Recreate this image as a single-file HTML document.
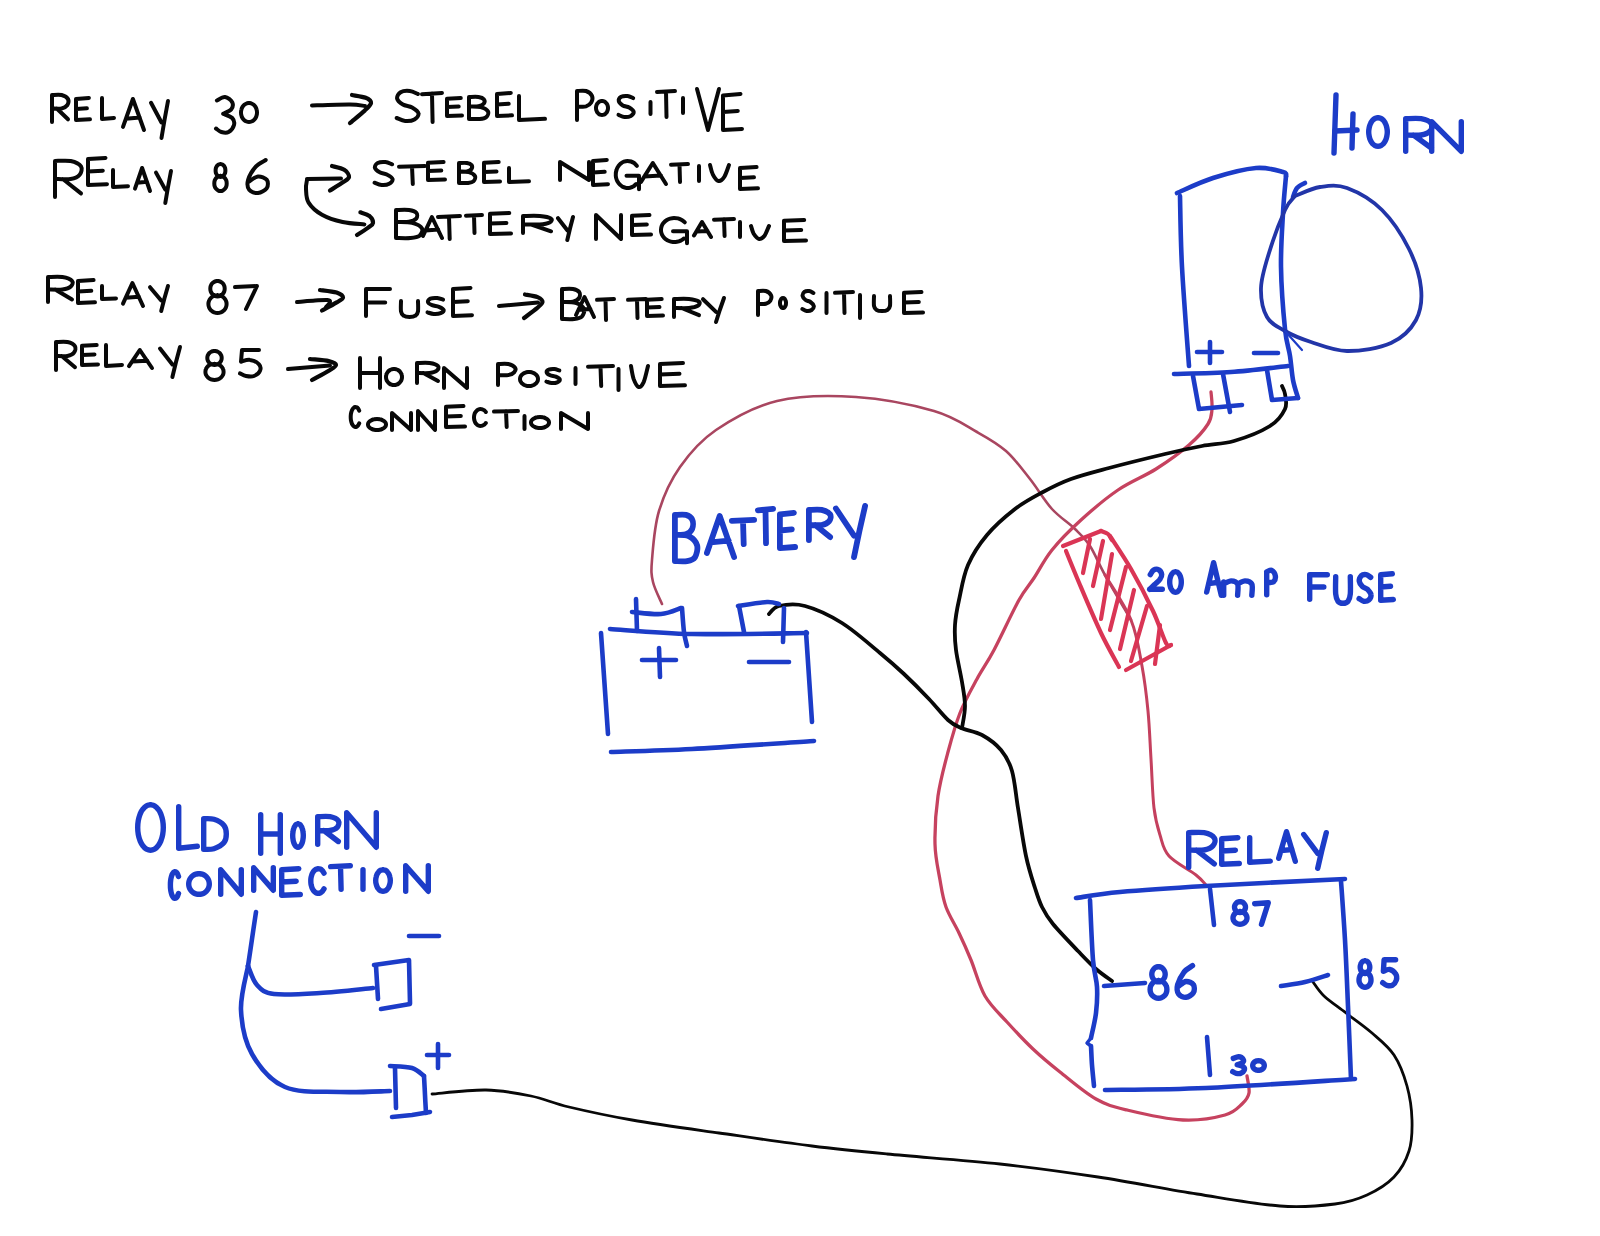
<!DOCTYPE html>
<html><head><meta charset="utf-8"><title>Horn relay wiring</title>
<style>
html,body{margin:0;padding:0;background:#fff;}
body{width:1600px;height:1236px;overflow:hidden;font-family:"Liberation Sans",sans-serif;}
svg{display:block;}
path{fill:none;stroke-linecap:round;stroke-linejoin:round;}
</style></head>
<body>
<svg width="1600" height="1236" viewBox="0 0 1600 1236">
<rect width="1600" height="1236" fill="#fff"/>
<path d="M52.0,122.0 L52.0,95.0 M52.0,95.0 C53.6,95.0 58.9,94.3 61.6,95.0 C64.3,95.7 67.1,97.3 68.0,99.0 C68.9,100.8 68.3,103.7 67.2,105.3 C66.1,106.8 64.1,108.0 61.6,108.5 C59.1,109.0 53.6,108.5 52.0,108.5 M56.8,108.5 L68.0,119.3 M88.9,98.0 L76.0,98.9 L76.0,120.0 L90.0,119.3 M76.0,109.0 L86.9,108.3 M102.0,98.0 L102.0,119.0 L114.0,118.0 M123.0,126.9 L132.9,99.0 L144.0,130.0 M125.9,118.8 L139.8,117.6 M151.0,102.8 L161.5,122.5 M168.0,101.0 L164.6,119.5 L161.5,138.0" stroke="#080808" stroke-width="4.0"/>
<path d="M216.9,100.5 C218.2,99.9 222.4,96.7 225.0,97.0 C227.6,97.3 231.1,100.2 232.2,102.2 C233.2,104.3 232.8,107.3 231.3,109.2 C229.8,111.2 224.5,113.0 223.2,113.8 M223.2,113.8 C224.7,114.5 230.4,116.1 232.2,118.0 C234.0,119.9 234.6,122.7 234.0,125.0 C233.4,127.3 230.7,130.8 228.6,132.0 C226.5,133.2 223.5,132.6 221.4,132.0 C219.3,131.4 216.9,129.1 216.0,128.5 M249.0,103.0 C249.4,103.1 250.7,103.2 251.5,103.5 C252.3,103.8 253.0,104.2 253.7,104.8 C254.4,105.4 255.0,106.1 255.5,106.9 C256.0,107.7 256.4,108.6 256.6,109.6 C256.9,110.5 257.0,111.5 257.0,112.5 C257.0,113.5 256.9,114.5 256.6,115.4 C256.4,116.4 256.0,117.3 255.5,118.1 C255.0,118.9 254.4,119.6 253.7,120.2 C253.0,120.8 252.3,121.2 251.5,121.5 C250.7,121.8 249.8,122.0 249.0,122.0 C248.2,122.0 247.3,121.8 246.5,121.5 C245.7,121.2 245.0,120.8 244.3,120.2 C243.6,119.6 243.0,118.9 242.5,118.1 C242.0,117.3 241.6,116.4 241.4,115.4 C241.1,114.5 241.0,113.5 241.0,112.5 C241.0,111.5 241.1,110.5 241.4,109.6 C241.6,108.6 242.0,107.7 242.5,106.9 C243.0,106.1 243.6,105.4 244.3,104.8 C245.0,104.2 245.7,103.8 246.5,103.5 C247.3,103.2 248.6,103.1 249.0,103.0" stroke="#080808" stroke-width="4.0"/>
<path d="M312.0,105.5 C318.3,105.3 341.2,104.4 350.0,104.5 C358.8,104.6 362.5,105.8 365.0,106.0" stroke="#080808" stroke-width="4.0"/>
<path d="M352.0,95.0 C354.3,95.5 362.5,96.5 365.7,97.8 C368.8,99.1 371.2,100.9 371.0,103.0 C370.8,105.1 368.2,107.3 364.7,110.6 C361.2,113.9 352.4,120.9 350.0,123.0" stroke="#080808" stroke-width="4.2"/>
<path d="M417.9,94.0 C416.5,93.5 412.7,91.3 409.8,91.0 C406.9,90.7 402.7,91.0 400.6,92.2 C398.5,93.5 396.8,96.5 397.1,98.5 C397.5,100.5 400.4,103.0 402.9,104.5 C405.4,106.0 409.5,106.0 412.1,107.5 C414.7,109.0 418.2,111.5 418.5,113.5 C418.9,115.5 416.6,118.2 414.4,119.5 C412.2,120.8 408.2,121.2 405.2,121.0 C402.2,120.8 398.1,118.5 396.7,118.0 M422.0,94.2 L442.0,93.0 M432.0,93.6 L432.6,122.0 M460.8,98.0 L447.0,98.7 L447.0,116.0 L462.0,115.5 M447.0,107.0 L458.7,106.5 M469.0,97.0 L469.0,119.0 M469.0,97.0 C470.6,97.0 476.0,96.6 478.5,97.0 C481.0,97.4 482.9,98.1 483.8,99.2 C484.7,100.3 484.7,102.4 483.8,103.6 C482.9,104.8 480.8,105.8 478.5,106.2 C476.2,106.7 471.4,106.4 469.9,106.5 M469.9,106.5 C471.8,106.6 477.8,106.3 480.8,107.1 C483.8,108.0 487.1,109.8 488.0,111.5 C488.9,113.2 487.5,116.0 486.1,117.2 C484.7,118.5 482.3,118.7 479.4,119.0 C476.6,119.3 470.7,119.0 469.0,119.0 M510.8,93.0 L497.0,93.9 L497.0,116.0 L512.0,115.3 M497.0,104.5 L508.7,103.8 M519.0,96.0 L519.0,120.0 L545.0,118.8" stroke="#080808" stroke-width="4.0"/>
<path d="M577.0,120.0 L577.0,91.0 M577.0,91.0 C578.5,91.0 583.5,90.2 586.0,91.0 C588.5,91.8 591.1,94.0 592.0,95.9 C592.9,97.9 592.2,100.9 591.2,102.6 C590.2,104.3 588.4,105.7 586.0,106.4 C583.6,107.0 578.5,106.4 577.0,106.4 M602.0,101.0 C602.3,101.1 603.3,101.1 603.9,101.3 C604.4,101.6 605.0,101.9 605.5,102.3 C606.0,102.8 606.5,103.3 606.9,103.9 C607.2,104.5 607.5,105.2 607.7,105.8 C607.9,106.5 608.0,107.3 608.0,108.0 C608.0,108.7 607.9,109.5 607.7,110.2 C607.5,110.8 607.2,111.5 606.9,112.1 C606.5,112.7 606.0,113.2 605.5,113.7 C605.0,114.1 604.4,114.4 603.9,114.7 C603.3,114.9 602.6,115.0 602.0,115.0 C601.4,115.0 600.7,114.9 600.1,114.7 C599.6,114.4 599.0,114.1 598.5,113.7 C598.0,113.2 597.5,112.7 597.1,112.1 C596.8,111.5 596.5,110.8 596.3,110.2 C596.1,109.5 596.0,108.7 596.0,108.0 C596.0,107.3 596.1,106.5 596.3,105.8 C596.5,105.2 596.8,104.5 597.1,103.9 C597.5,103.3 598.0,102.8 598.5,102.3 C599.0,101.9 599.6,101.6 600.1,101.3 C600.7,101.1 601.7,101.1 602.0,101.0 M633.2,98.1 C632.3,97.8 629.6,96.2 627.6,96.0 C625.6,95.8 622.7,96.0 621.2,96.8 C619.7,97.7 618.5,99.8 618.8,101.2 C619.1,102.7 621.1,104.4 622.8,105.5 C624.5,106.5 627.4,106.5 629.2,107.5 C631.0,108.6 633.4,110.3 633.7,111.8 C633.9,113.2 632.3,115.1 630.8,116.0 C629.3,116.8 626.5,117.2 624.4,117.0 C622.3,116.8 619.5,115.2 618.5,114.9 M650.5,102.0 L650.5,114.0 M657.0,92.0 L675.0,91.0 M666.0,91.5 L666.5,117.0 M683.0,98.0 L683.0,113.0 M697.0,89.0 L708.0,130.0 L719.0,89.0 M740.5,94.0 L723.0,95.4 L723.0,130.0 L742.0,128.9 M723.0,112.0 L737.8,110.9" stroke="#080808" stroke-width="4.0"/>
<path d="M55.0,197.0 L55.0,161.0 M55.0,161.0 C57.6,161.0 66.3,160.1 70.6,161.0 C74.9,161.9 79.5,164.1 81.0,166.4 C82.5,168.7 81.4,172.6 79.7,174.7 C78.0,176.8 74.7,178.3 70.6,179.0 C66.5,179.7 57.6,179.0 55.0,179.0 M62.8,179.0 L81.0,193.4 M105.5,158.0 L88.0,159.1 L88.0,185.0 L107.0,184.2 M88.0,171.5 L102.8,170.7 M113.0,170.0 L113.0,187.0 L128.0,186.2 M135.0,188.7 L142.1,168.0 L150.0,191.0 M137.1,182.7 L147.0,181.8 M156.0,172.6 L165.3,189.6 M171.0,171.0 L168.0,187.0 L165.3,203.0" stroke="#080808" stroke-width="4.0"/>
<path d="M220.5,164.0 C220.8,164.1 221.8,164.2 222.4,164.5 C223.0,164.8 223.5,165.3 224.0,165.9 C224.4,166.5 224.8,167.2 225.1,168.0 C225.3,168.8 225.4,169.7 225.4,170.5 C225.4,171.3 225.3,172.2 225.1,173.0 C224.8,173.7 224.4,174.5 224.0,175.1 C223.5,175.6 223.0,176.2 222.4,176.5 C221.8,176.8 221.1,177.0 220.5,177.0 C219.9,177.0 219.2,176.8 218.6,176.5 C218.0,176.2 217.5,175.6 217.0,175.1 C216.6,174.5 216.2,173.7 215.9,173.0 C215.7,172.2 215.6,171.3 215.6,170.5 C215.6,169.7 215.7,168.8 215.9,168.0 C216.2,167.2 216.6,166.5 217.0,165.9 C217.5,165.3 218.0,164.8 218.6,164.5 C219.2,164.2 220.2,164.1 220.5,164.0 M220.5,175.9 C220.9,176.0 222.2,176.1 222.9,176.5 C223.6,176.8 224.3,177.4 224.9,178.1 C225.5,178.8 226.0,179.7 226.3,180.5 C226.6,181.4 226.7,182.5 226.7,183.4 C226.7,184.4 226.6,185.4 226.3,186.3 C226.0,187.2 225.5,188.1 224.9,188.8 C224.3,189.5 223.6,190.1 222.9,190.4 C222.2,190.8 221.3,191.0 220.5,191.0 C219.7,191.0 218.8,190.8 218.1,190.4 C217.4,190.1 216.7,189.5 216.1,188.8 C215.5,188.1 215.0,187.2 214.7,186.3 C214.4,185.4 214.3,184.4 214.3,183.4 C214.3,182.5 214.4,181.4 214.7,180.5 C215.0,179.7 215.5,178.8 216.1,178.1 C216.7,177.4 217.4,176.8 218.1,176.5 C218.8,176.1 220.1,176.0 220.5,175.9 M265.7,160.0 C264.1,161.1 258.7,163.3 255.8,166.6 C252.9,169.9 249.2,176.0 248.1,179.8 C247.0,183.7 247.5,187.5 249.2,189.7 C250.8,191.9 255.1,193.3 258.0,193.0 C260.9,192.7 265.3,190.2 266.8,188.1 C268.3,185.9 268.3,181.7 266.8,179.8 C265.3,177.9 260.9,176.2 258.0,176.5 C255.1,176.8 250.7,180.6 249.2,181.4" stroke="#080808" stroke-width="4.0"/>
<path d="M307.0,179.0 L341.0,178.5" stroke="#080808" stroke-width="4.0"/>
<path d="M332.0,166.0 C334.0,166.6 341.4,168.0 344.2,169.8 C347.1,171.7 349.2,175.0 349.0,177.0 C348.8,179.0 346.5,179.9 343.3,182.1 C340.1,184.4 332.2,189.1 330.0,190.5" stroke="#080808" stroke-width="4.2"/>
<path d="M307.0,180.0 C306.8,181.5 305.7,185.2 306.0,189.0 C306.3,192.8 305.9,198.3 308.6,202.6 C311.3,206.9 316.3,211.5 322.0,214.7 C327.7,217.9 335.5,220.4 342.6,222.0 C349.7,223.6 360.8,224.0 364.4,224.4" stroke="#080808" stroke-width="4.0"/>
<path d="M360.4,212.3 C361.9,212.9 367.4,214.3 369.5,216.0 C371.6,217.8 373.2,221.1 373.0,223.0 C372.8,224.9 370.9,225.6 368.2,227.6 C365.5,229.6 358.9,233.8 357.0,235.0" stroke="#080808" stroke-width="4.2"/>
<path d="M392.1,164.3 C390.9,163.9 387.8,162.2 385.4,162.0 C383.0,161.8 379.5,162.0 377.8,162.9 C376.1,163.9 374.6,166.2 374.9,167.8 C375.3,169.3 377.6,171.2 379.7,172.3 C381.8,173.5 385.1,173.5 387.3,174.7 C389.5,175.8 392.3,177.7 392.6,179.2 C392.9,180.8 391.0,182.9 389.2,183.8 C387.4,184.8 384.0,185.2 381.6,185.0 C379.2,184.8 375.7,183.1 374.6,182.7 M399.0,166.7 L425.0,166.0 M412.0,166.4 L412.8,184.0 M443.6,162.0 L428.0,162.7 L428.0,180.0 L445.0,179.5 M428.0,171.0 L441.3,170.5 M459.0,163.0 L459.0,183.0 M459.0,163.0 C460.3,163.0 464.9,162.7 467.0,163.0 C469.1,163.3 470.7,164.0 471.5,165.0 C472.2,166.0 472.2,167.9 471.5,169.0 C470.7,170.1 468.9,171.0 467.0,171.4 C465.1,171.8 461.0,171.6 459.8,171.6 M459.8,171.6 C461.3,171.7 466.4,171.4 468.9,172.2 C471.5,173.0 474.3,174.7 475.0,176.2 C475.7,177.7 474.6,180.3 473.4,181.4 C472.2,182.5 470.2,182.7 467.8,183.0 C465.4,183.3 460.5,183.0 459.0,183.0 M498.7,162.0 L484.0,162.8 L484.0,182.0 L500.0,181.4 M484.0,172.0 L496.5,171.4 M509.0,168.0 L509.0,182.0 L529.0,181.3" stroke="#080808" stroke-width="4.0"/>
<path d="M560.0,180.0 L560.0,162.0 L589.0,180.0 L589.0,162.0 M606.8,160.0 L593.0,161.0 L593.0,185.0 L608.0,184.2 M593.0,172.5 L604.7,171.8 M636.9,165.8 C636.5,165.4 635.2,163.9 634.3,163.2 C633.3,162.4 632.1,161.9 631.0,161.5 C629.8,161.1 628.6,161.0 627.4,161.0 C626.2,161.0 625.0,161.3 623.9,161.7 C622.8,162.1 621.7,162.8 620.7,163.6 C619.8,164.4 618.9,165.3 618.2,166.4 C617.4,167.5 616.8,168.7 616.5,170.0 C616.1,171.2 615.8,172.6 615.8,173.9 C615.7,175.2 615.8,176.6 616.1,177.9 C616.4,179.2 616.9,180.5 617.6,181.6 C618.2,182.8 619.0,183.8 619.9,184.7 C620.8,185.6 621.8,186.3 622.9,186.9 C624.0,187.4 625.2,187.8 626.4,187.9 C627.6,188.1 628.8,188.0 630.0,187.8 C631.1,187.5 632.3,187.1 633.3,186.4 C634.4,185.8 635.8,184.4 636.2,184.0 M626.5,175.8 L639.0,175.8 L639.0,189.3 M641.0,181.9 L652.8,163.0 L666.0,184.0 M644.5,176.4 L661.0,175.6 M671.0,164.7 L688.0,164.0 M679.5,164.4 L680.0,182.0 M699.0,166.0 L699.0,181.0 M710.0,165.0 C710.5,166.6 711.4,171.9 712.9,174.6 C714.3,177.3 716.6,180.6 718.5,181.0 C720.4,181.4 722.5,179.7 724.2,177.0 C726.0,174.3 728.2,167.0 729.0,165.0 M756.6,167.0 L740.0,167.9 L740.0,189.0 L758.0,188.3 M740.0,178.0 L754.0,177.3" stroke="#080808" stroke-width="4.0"/>
<path d="M396.0,210.0 L396.0,238.0 M396.0,210.0 C398.2,210.0 405.6,209.5 409.0,210.0 C412.4,210.5 415.1,211.4 416.3,212.8 C417.5,214.2 417.5,216.9 416.3,218.4 C415.1,219.9 412.2,221.2 409.0,221.8 C405.8,222.4 399.2,222.0 397.3,222.0 M397.3,222.0 C399.8,222.2 408.0,221.8 412.1,222.9 C416.2,224.0 420.8,226.3 422.0,228.5 C423.2,230.6 421.3,234.2 419.4,235.8 C417.4,237.3 414.2,237.6 410.3,238.0 C406.4,238.4 398.4,238.0 396.0,238.0 M423.0,235.9 L431.9,217.0 L442.0,238.0 M425.7,230.4 L438.2,229.6 M438.0,216.9 L460.0,216.0 M449.0,216.5 L449.7,239.0 M466.0,215.7 L482.0,215.0 M474.0,215.4 L474.5,233.0 M509.3,213.0 L490.0,213.8 L490.0,234.0 L511.0,233.4 M490.0,223.5 L506.4,222.9 M523.0,233.0 L523.0,216.0 M523.0,216.0 C525.8,216.0 535.1,215.6 539.8,216.0 C544.5,216.4 549.4,217.5 551.0,218.6 C552.6,219.6 551.5,221.5 549.6,222.5 C547.7,223.5 544.2,224.2 539.8,224.5 C535.4,224.8 525.8,224.5 523.0,224.5 M531.4,224.5 L551.0,231.3 M558.0,218.2 L567.3,230.3 M573.0,217.0 L570.0,228.5 L567.3,240.0" stroke="#080808" stroke-width="4.0"/>
<path d="M596.0,239.0 L596.0,215.0 L621.0,239.0 L621.0,215.0 M649.5,215.0 L632.0,215.8 L632.0,235.0 L651.0,234.4 M632.0,225.0 L646.8,224.4 M684.7,222.3 C684.2,221.9 682.8,220.6 681.7,219.9 C680.6,219.3 679.3,218.8 678.0,218.4 C676.7,218.1 675.4,218.0 674.0,218.0 C672.7,218.0 671.3,218.3 670.1,218.6 C668.8,219.0 667.6,219.6 666.5,220.3 C665.4,221.0 664.4,221.9 663.6,222.8 C662.9,223.7 662.2,224.8 661.7,226.0 C661.3,227.1 661.0,228.3 661.0,229.5 C660.9,230.7 661.1,231.9 661.4,233.0 C661.7,234.2 662.3,235.3 663.0,236.3 C663.7,237.3 664.6,238.3 665.6,239.1 C666.6,239.8 667.8,240.5 669.0,241.0 C670.2,241.5 671.5,241.8 672.9,241.9 C674.2,242.1 675.6,242.0 676.9,241.8 C678.2,241.6 679.5,241.2 680.7,240.6 C681.8,240.1 683.4,238.8 683.9,238.5 M673.0,231.2 L687.0,231.2 L687.0,243.2 M694.0,235.5 L702.0,222.0 L711.0,237.0 M696.4,231.6 L707.6,231.0 M714.0,219.7 L734.0,219.0 M724.0,219.3 L724.6,236.0 M740.0,222.0 L740.0,237.0 M751.0,226.0 C751.5,227.3 752.4,231.6 753.7,233.8 C755.1,236.0 757.3,238.7 759.1,239.0 C760.9,239.3 762.9,237.9 764.5,235.8 C766.1,233.6 768.2,227.6 769.0,226.0 M804.2,220.0 L784.0,220.8 L784.0,241.0 L806.0,240.4 M784.0,230.5 L801.2,229.9" stroke="#080808" stroke-width="4.0"/>
<path d="M48.0,302.0 L48.0,277.0 M48.0,277.0 C50.4,277.0 58.4,276.4 62.4,277.0 C66.4,277.6 70.6,279.2 72.0,280.8 C73.4,282.3 72.4,285.0 70.8,286.5 C69.2,288.0 66.2,289.0 62.4,289.5 C58.6,290.0 50.4,289.5 48.0,289.5 M55.2,289.5 L72.0,299.5 M93.6,280.0 L78.0,280.9 L78.0,303.0 L95.0,302.3 M78.0,291.5 L91.3,290.8 M102.0,286.0 L102.0,299.0 L116.0,298.4 M123.0,303.7 L132.4,283.0 L143.0,306.0 M125.8,297.7 L139.0,296.8 M150.0,287.2 L161.2,300.5 M168.0,286.0 L164.4,298.5 L161.2,311.0" stroke="#080808" stroke-width="4.0"/>
<path d="M217.5,281.0 C218.0,281.1 219.4,281.2 220.3,281.6 C221.1,282.0 222.0,282.6 222.6,283.2 C223.3,283.9 223.8,284.8 224.2,285.7 C224.5,286.6 224.7,287.7 224.7,288.7 C224.7,289.7 224.5,290.7 224.2,291.6 C223.8,292.5 223.3,293.4 222.6,294.1 C222.0,294.8 221.1,295.4 220.3,295.8 C219.4,296.2 218.4,296.4 217.5,296.4 C216.6,296.4 215.6,296.2 214.7,295.8 C213.9,295.4 213.0,294.8 212.4,294.1 C211.7,293.4 211.2,292.5 210.8,291.6 C210.5,290.7 210.3,289.7 210.3,288.7 C210.3,287.7 210.5,286.6 210.8,285.7 C211.2,284.8 211.7,283.9 212.4,283.2 C213.0,282.6 213.9,282.0 214.7,281.6 C215.6,281.2 217.0,281.1 217.5,281.0 M217.5,295.1 C218.1,295.2 219.9,295.3 221.0,295.8 C222.1,296.2 223.1,296.9 223.9,297.7 C224.8,298.5 225.5,299.6 225.9,300.6 C226.4,301.7 226.6,302.9 226.6,304.0 C226.6,305.2 226.4,306.4 225.9,307.5 C225.5,308.5 224.8,309.6 223.9,310.4 C223.1,311.2 222.1,311.9 221.0,312.3 C219.9,312.8 218.7,313.0 217.5,313.0 C216.3,313.0 215.1,312.8 214.0,312.3 C212.9,311.9 211.9,311.2 211.1,310.4 C210.2,309.6 209.5,308.5 209.1,307.5 C208.6,306.4 208.4,305.2 208.4,304.0 C208.4,302.9 208.6,301.7 209.1,300.6 C209.5,299.6 210.2,298.5 211.1,297.7 C211.9,296.9 212.9,296.2 214.0,295.8 C215.1,295.3 216.9,295.2 217.5,295.1 M235.0,287.1 L257.0,286.0 L246.0,309.0" stroke="#080808" stroke-width="4.0"/>
<path d="M297.0,302.0 C300.0,301.8 309.9,300.8 315.0,300.5 C320.1,300.2 325.0,299.8 327.5,300.0 C330.0,300.2 330.2,300.8 330.0,302.0 C329.8,303.2 326.7,306.2 326.0,307.0" stroke="#080808" stroke-width="4.0"/>
<path d="M320.0,290.0 C322.8,290.4 332.7,291.4 336.6,292.6 C340.4,293.9 343.0,295.9 343.0,297.5 C343.0,299.1 340.2,300.3 336.7,302.4 C333.2,304.6 324.4,309.2 322.0,310.5" stroke="#080808" stroke-width="4.2"/>
<path d="M390.0,289.0 L366.0,289.0 L366.0,316.0 M366.0,302.5 L385.2,302.5 M401.0,301.0 C401.0,302.7 400.6,308.9 401.0,311.4 C401.4,313.9 402.1,314.8 403.6,315.7 C405.0,316.7 407.5,317.0 409.5,317.0 C411.5,317.0 414.0,316.7 415.4,315.7 C416.9,314.8 417.6,313.9 418.0,311.4 C418.4,308.9 418.0,302.7 418.0,301.0 M443.1,299.6 C442.2,299.3 439.3,298.2 437.2,298.0 C435.1,297.8 432.0,298.0 430.4,298.6 C428.8,299.3 427.6,300.9 427.9,302.0 C428.1,303.1 430.3,304.4 432.1,305.2 C433.9,306.0 437.0,306.0 438.9,306.8 C440.8,307.6 443.4,308.9 443.7,310.0 C443.9,311.1 442.2,312.5 440.6,313.2 C439.0,313.9 436.0,314.1 433.8,314.0 C431.6,313.9 428.6,312.7 427.5,312.4 M470.5,288.0 L453.0,289.1 L453.0,316.0 L472.0,315.2 M453.0,302.0 L467.8,301.2" stroke="#080808" stroke-width="4.0"/>
<path d="M499.0,306.0 L538.0,302.5" stroke="#080808" stroke-width="4.0"/>
<path d="M525.0,294.5 C527.1,294.9 534.7,295.9 537.6,297.1 C540.5,298.4 542.6,300.2 542.5,302.0 C542.4,303.8 540.0,305.4 537.0,308.1 C533.9,310.7 526.2,316.3 524.0,318.0" stroke="#080808" stroke-width="4.2"/>
<path d="M562.0,289.0 L562.0,319.0 M562.0,289.0 C563.8,289.0 570.1,288.5 573.0,289.0 C575.9,289.5 578.1,290.5 579.2,292.0 C580.2,293.5 580.2,296.4 579.2,298.0 C578.1,299.6 575.7,301.0 573.0,301.6 C570.3,302.2 564.8,301.8 563.1,301.9 M563.1,301.9 C565.2,302.0 572.2,301.6 575.6,302.8 C579.1,304.0 583.0,306.5 584.0,308.8 C585.0,311.1 583.4,314.9 581.8,316.6 C580.1,318.3 577.4,318.6 574.1,319.0 C570.8,319.4 564.0,319.0 562.0,319.0 M576.0,315.0 L584.5,297.0 L594.0,317.0 M578.5,309.8 L590.4,309.0 M597.0,299.8 L614.0,299.0 M605.5,299.4 L606.0,320.0 M628.0,299.8 L646.0,299.0 M637.0,299.4 L637.5,318.0 M661.7,299.0 L647.0,299.7 L647.0,316.0 L663.0,315.5 M647.0,307.5 L659.5,307.0 M674.0,317.0 L674.0,299.0 M674.0,299.0 C676.5,299.0 684.8,298.6 689.0,299.0 C693.2,299.4 697.5,300.6 699.0,301.7 C700.5,302.8 699.4,304.8 697.8,305.8 C696.1,306.9 693.0,307.6 689.0,308.0 C685.0,308.4 676.5,308.0 674.0,308.0 M681.5,308.0 L699.0,315.2 M703.0,299.2 L716.0,311.9 M724.0,298.0 L719.8,310.0 L716.0,322.0" stroke="#080808" stroke-width="4.0"/>
<path d="M758.0,315.0 L758.0,291.0 M758.0,291.0 C759.3,291.0 763.6,290.3 765.8,291.0 C768.0,291.7 770.2,293.5 771.0,295.1 C771.8,296.7 771.2,299.2 770.4,300.6 C769.5,302.0 767.9,303.2 765.8,303.7 C763.7,304.2 759.3,303.7 758.0,303.7 M783.0,298.0 C783.2,298.0 783.6,298.1 783.9,298.2 C784.2,298.4 784.5,298.7 784.8,299.0 C785.0,299.3 785.2,299.6 785.4,300.1 C785.6,300.5 785.8,301.0 785.9,301.5 C785.9,301.9 786.0,302.5 786.0,303.0 C786.0,303.5 785.9,304.1 785.9,304.5 C785.8,305.0 785.6,305.5 785.4,305.9 C785.2,306.4 785.0,306.7 784.8,307.0 C784.5,307.3 784.2,307.6 783.9,307.8 C783.6,307.9 783.3,308.0 783.0,308.0 C782.7,308.0 782.4,307.9 782.1,307.8 C781.8,307.6 781.5,307.3 781.2,307.0 C781.0,306.7 780.8,306.4 780.6,305.9 C780.4,305.5 780.2,305.0 780.1,304.5 C780.1,304.1 780.0,303.5 780.0,303.0 C780.0,302.5 780.1,301.9 780.1,301.5 C780.2,301.0 780.4,300.5 780.6,300.1 C780.8,299.6 781.0,299.3 781.2,299.0 C781.5,298.7 781.8,298.4 782.1,298.2 C782.4,298.1 782.8,298.0 783.0,298.0 M813.4,293.0 C812.7,292.7 810.7,291.2 809.2,291.0 C807.7,290.8 805.5,291.0 804.4,291.8 C803.3,292.6 802.4,294.6 802.6,296.0 C802.8,297.4 804.3,299.0 805.6,300.0 C806.9,301.0 809.0,301.0 810.4,302.0 C811.8,303.0 813.6,304.7 813.8,306.0 C814.0,307.3 812.8,309.2 811.6,310.0 C810.4,310.8 808.3,311.2 806.8,311.0 C805.3,310.8 803.1,309.3 802.4,309.0 M826.5,293.0 L826.5,313.0 M835.0,292.8 L853.0,292.0 M844.0,292.4 L844.5,313.0 M860.0,295.0 L860.0,318.0 M874.0,296.0 C874.0,297.6 873.6,303.4 874.0,305.8 C874.4,308.1 875.1,308.9 876.4,309.8 C877.7,310.7 880.1,311.0 882.0,311.0 C883.9,311.0 886.3,310.7 887.6,309.8 C888.9,308.9 889.6,308.1 890.0,305.8 C890.4,303.4 890.0,297.6 890.0,296.0 M921.5,292.0 L904.0,292.8 L904.0,313.0 L923.0,312.4 M904.0,302.5 L918.8,301.9" stroke="#080808" stroke-width="4.0"/>
<path d="M56.0,370.0 L56.0,342.0 M56.0,342.0 C57.9,342.0 64.2,341.3 67.4,342.0 C70.6,342.7 73.9,344.4 75.0,346.2 C76.1,348.0 75.3,351.0 74.0,352.6 C72.8,354.3 70.4,355.4 67.4,356.0 C64.4,356.6 57.9,356.0 56.0,356.0 M61.7,356.0 L75.0,367.2 M96.7,345.0 L82.0,345.8 L82.0,365.0 L98.0,364.4 M82.0,355.0 L94.5,354.4 M106.0,345.0 L106.0,366.0 L122.0,364.9 M129.0,366.2 L139.8,350.0 L152.0,368.0 M132.2,361.5 L147.4,360.8 M160.0,348.5 L172.4,364.4 M180.0,347.0 L176.0,362.0 L172.4,377.0" stroke="#080808" stroke-width="4.0"/>
<path d="M214.5,351.0 C215.0,351.1 216.4,351.2 217.3,351.5 C218.1,351.9 219.0,352.4 219.6,353.0 C220.3,353.7 220.8,354.5 221.2,355.3 C221.5,356.1 221.7,357.1 221.7,358.0 C221.7,358.8 221.5,359.8 221.2,360.6 C220.8,361.4 220.3,362.3 219.6,362.9 C219.0,363.5 218.1,364.1 217.3,364.4 C216.4,364.7 215.4,364.9 214.5,364.9 C213.6,364.9 212.6,364.7 211.7,364.4 C210.9,364.1 210.0,363.5 209.4,362.9 C208.7,362.3 208.2,361.4 207.8,360.6 C207.5,359.8 207.3,358.8 207.3,358.0 C207.3,357.1 207.5,356.1 207.8,355.3 C208.2,354.5 208.7,353.7 209.4,353.0 C210.0,352.4 210.9,351.9 211.7,351.5 C212.6,351.2 214.0,351.1 214.5,351.0 M214.5,363.8 C215.1,363.9 216.9,364.0 218.0,364.4 C219.1,364.8 220.1,365.4 220.9,366.1 C221.8,366.9 222.5,367.8 222.9,368.8 C223.4,369.7 223.6,370.8 223.6,371.9 C223.6,372.9 223.4,374.0 222.9,375.0 C222.5,375.9 221.8,376.9 220.9,377.6 C220.1,378.4 219.1,379.0 218.0,379.4 C216.9,379.8 215.7,380.0 214.5,380.0 C213.3,380.0 212.1,379.8 211.0,379.4 C209.9,379.0 208.9,378.4 208.1,377.6 C207.2,376.9 206.5,375.9 206.1,375.0 C205.6,374.0 205.4,372.9 205.4,371.9 C205.4,370.8 205.6,369.7 206.1,368.8 C206.5,367.8 207.2,366.9 208.1,366.1 C208.9,365.4 209.9,364.8 211.0,364.4 C212.1,364.0 213.9,363.9 214.5,363.8 M259.0,350.0 L242.0,350.0 L241.0,361.7 M241.0,361.7 C242.5,361.4 247.0,359.4 250.0,359.9 C253.0,360.3 257.3,362.5 259.0,364.3 C260.7,366.1 260.8,368.9 260.0,370.8 C259.2,372.8 256.3,375.1 254.0,376.0 C251.7,376.9 248.3,376.4 246.0,376.0 C243.7,375.6 241.0,373.8 240.0,373.4" stroke="#080808" stroke-width="4.0"/>
<path d="M288.0,369.0 L330.0,365.5" stroke="#080808" stroke-width="4.0"/>
<path d="M310.0,359.0 C313.1,359.4 324.4,360.1 328.7,361.1 C333.1,362.1 336.0,363.4 336.0,365.0 C336.0,366.6 332.8,368.2 328.8,370.7 C324.8,373.2 314.8,378.4 312.0,380.0" stroke="#080808" stroke-width="4.2"/>
<path d="M360.0,358.0 L360.0,388.0 M380.0,358.0 L380.0,388.0 M360.0,373.0 L380.0,373.0 M394.0,369.0 C394.4,369.1 395.7,369.1 396.5,369.4 C397.3,369.6 398.0,370.0 398.7,370.5 C399.4,371.0 400.0,371.6 400.5,372.3 C401.0,373.0 401.4,373.7 401.6,374.5 C401.9,375.3 402.0,376.2 402.0,377.0 C402.0,377.8 401.9,378.7 401.6,379.5 C401.4,380.3 401.0,381.0 400.5,381.7 C400.0,382.4 399.4,383.0 398.7,383.5 C398.0,384.0 397.3,384.4 396.5,384.6 C395.7,384.9 394.8,385.0 394.0,385.0 C393.2,385.0 392.3,384.9 391.5,384.6 C390.7,384.4 390.0,384.0 389.3,383.5 C388.6,383.0 388.0,382.4 387.5,381.7 C387.0,381.0 386.6,380.3 386.4,379.5 C386.1,378.7 386.0,377.8 386.0,377.0 C386.0,376.2 386.1,375.3 386.4,374.5 C386.6,373.7 387.0,373.0 387.5,372.3 C388.0,371.6 388.6,371.0 389.3,370.5 C390.0,370.0 390.7,369.6 391.5,369.4 C392.3,369.1 393.6,369.1 394.0,369.0 M417.0,383.0 L417.0,363.0 M417.0,363.0 C419.1,363.0 426.1,362.5 429.6,363.0 C433.1,363.5 436.8,364.7 438.0,366.0 C439.2,367.3 438.3,369.4 436.9,370.6 C435.6,371.8 432.9,372.6 429.6,373.0 C426.3,373.4 419.1,373.0 417.0,373.0 M423.3,373.0 L438.0,381.0 M444.0,388.0 L444.0,368.0 L467.0,388.0 L467.0,368.0" stroke="#080808" stroke-width="4.0"/>
<path d="M498.0,385.0 L498.0,364.0 M498.0,364.0 C499.7,364.0 505.4,363.4 508.2,364.0 C511.0,364.6 514.0,366.2 515.0,367.6 C516.0,369.0 515.3,371.1 514.1,372.4 C513.0,373.7 510.9,374.7 508.2,375.1 C505.5,375.6 499.7,375.1 498.0,375.1 M529.0,372.0 C529.5,372.1 530.9,372.1 531.8,372.3 C532.7,372.6 533.5,372.9 534.3,373.3 C535.0,373.8 535.7,374.3 536.3,374.9 C536.8,375.5 537.3,376.2 537.6,376.8 C537.8,377.5 538.0,378.3 538.0,379.0 C538.0,379.7 537.8,380.5 537.6,381.2 C537.3,381.8 536.8,382.5 536.3,383.1 C535.7,383.7 535.0,384.2 534.3,384.7 C533.5,385.1 532.7,385.4 531.8,385.7 C530.9,385.9 529.9,386.0 529.0,386.0 C528.1,386.0 527.1,385.9 526.2,385.7 C525.3,385.4 524.5,385.1 523.7,384.7 C523.0,384.2 522.3,383.7 521.7,383.1 C521.2,382.5 520.7,381.8 520.4,381.2 C520.2,380.5 520.0,379.7 520.0,379.0 C520.0,378.3 520.2,377.5 520.4,376.8 C520.7,376.2 521.2,375.5 521.7,374.9 C522.3,374.3 523.0,373.8 523.7,373.3 C524.5,372.9 525.3,372.6 526.2,372.3 C527.1,372.1 528.5,372.1 529.0,372.0 M559.3,370.4 C558.5,370.2 556.1,369.1 554.4,369.0 C552.6,368.9 550.1,369.0 548.8,369.6 C547.5,370.1 546.5,371.5 546.7,372.5 C546.9,373.5 548.7,374.6 550.2,375.3 C551.7,376.0 554.2,376.0 555.8,376.7 C557.4,377.4 559.5,378.6 559.7,379.5 C560.0,380.4 558.6,381.7 557.2,382.3 C555.8,382.9 553.4,383.1 551.6,383.0 C549.8,382.9 547.3,381.8 546.4,381.6 M575.5,368.0 L575.5,384.0 M588.0,366.8 L613.0,366.0 M600.5,366.4 L601.2,386.0 M618.5,369.0 L618.5,390.0 M631.0,366.0 C631.4,368.1 632.3,375.1 633.5,378.6 C634.8,382.1 636.9,386.5 638.6,387.0 C640.4,387.5 642.2,385.2 643.8,381.8 C645.3,378.2 647.3,368.6 648.0,366.0 M683.0,363.0 L660.0,363.9 L660.0,386.0 L685.0,385.3 M660.0,374.5 L679.5,373.8" stroke="#080808" stroke-width="4.0"/>
<path d="M359.2,410.6 C359.0,410.2 358.5,409.1 358.1,408.6 C357.7,408.0 357.2,407.6 356.7,407.3 C356.3,407.1 355.8,407.0 355.3,407.0 C354.8,407.1 354.3,407.3 353.9,407.6 C353.4,407.9 353.0,408.5 352.6,409.1 C352.2,409.7 351.8,410.4 351.6,411.3 C351.3,412.1 351.1,413.0 350.9,414.0 C350.8,414.9 350.7,416.0 350.7,417.0 C350.7,418.0 350.8,419.1 350.9,420.0 C351.1,421.0 351.3,421.9 351.6,422.7 C351.8,423.6 352.2,424.3 352.6,424.9 C353.0,425.5 353.4,426.1 353.9,426.4 C354.3,426.7 354.8,426.9 355.3,427.0 C355.8,427.0 356.3,426.9 356.7,426.7 C357.2,426.4 357.7,426.0 358.1,425.4 C358.5,424.9 359.0,423.8 359.2,423.4 M377.0,419.0 C377.5,419.0 378.9,419.1 379.8,419.3 C380.7,419.4 381.5,419.7 382.3,420.1 C383.0,420.4 383.7,420.8 384.3,421.3 C384.8,421.7 385.3,422.3 385.6,422.8 C385.8,423.3 386.0,423.9 386.0,424.5 C386.0,425.1 385.8,425.7 385.6,426.2 C385.3,426.7 384.8,427.3 384.3,427.7 C383.7,428.2 383.0,428.6 382.3,428.9 C381.5,429.3 380.7,429.6 379.8,429.7 C378.9,429.9 377.9,430.0 377.0,430.0 C376.1,430.0 375.1,429.9 374.2,429.7 C373.3,429.6 372.5,429.3 371.7,428.9 C371.0,428.6 370.3,428.2 369.7,427.7 C369.2,427.3 368.7,426.7 368.4,426.2 C368.2,425.7 368.0,425.1 368.0,424.5 C368.0,423.9 368.2,423.3 368.4,422.8 C368.7,422.3 369.2,421.7 369.7,421.3 C370.3,420.8 371.0,420.4 371.7,420.1 C372.5,419.7 373.3,419.4 374.2,419.3 C375.1,419.1 376.5,419.0 377.0,419.0 M392.0,430.0 L392.0,413.0 L411.0,430.0 L411.0,413.0 M418.0,430.0 L418.0,411.0 L435.0,430.0 L435.0,411.0 M463.5,406.0 L446.0,406.8 L446.0,427.0 L465.0,426.4 M446.0,416.5 L460.8,415.9 M485.8,412.0 C485.6,411.8 484.9,410.8 484.3,410.3 C483.7,409.9 483.1,409.5 482.4,409.3 C481.8,409.1 481.1,409.0 480.4,409.0 C479.7,409.0 479.0,409.2 478.4,409.5 C477.8,409.8 477.1,410.2 476.6,410.8 C476.1,411.3 475.6,411.9 475.2,412.6 C474.8,413.3 474.5,414.1 474.3,414.9 C474.1,415.8 474.0,416.6 474.0,417.5 C474.0,418.4 474.1,419.2 474.3,420.1 C474.5,420.9 474.8,421.7 475.2,422.4 C475.6,423.1 476.1,423.7 476.6,424.2 C477.1,424.8 477.8,425.2 478.4,425.5 C479.0,425.8 479.7,426.0 480.4,426.0 C481.1,426.0 481.8,425.9 482.4,425.7 C483.1,425.5 483.7,425.1 484.3,424.7 C484.9,424.2 485.6,423.2 485.8,423.0 M494.0,411.6 L518.0,411.0 M506.0,411.3 L506.7,427.0 M524.5,416.0 L524.5,429.0 M540.0,417.0 C540.5,417.0 541.9,417.1 542.8,417.3 C543.7,417.4 544.5,417.7 545.3,418.1 C546.0,418.4 546.7,418.8 547.3,419.3 C547.8,419.7 548.3,420.3 548.6,420.8 C548.8,421.3 549.0,421.9 549.0,422.5 C549.0,423.1 548.8,423.7 548.6,424.2 C548.3,424.7 547.8,425.3 547.3,425.7 C546.7,426.2 546.0,426.6 545.3,426.9 C544.5,427.3 543.7,427.6 542.8,427.7 C541.9,427.9 540.9,428.0 540.0,428.0 C539.1,428.0 538.1,427.9 537.2,427.7 C536.3,427.6 535.5,427.3 534.7,426.9 C534.0,426.6 533.3,426.2 532.7,425.7 C532.2,425.3 531.7,424.7 531.4,424.2 C531.2,423.7 531.0,423.1 531.0,422.5 C531.0,421.9 531.2,421.3 531.4,420.8 C531.7,420.3 532.2,419.7 532.7,419.3 C533.3,418.8 534.0,418.4 534.7,418.1 C535.5,417.7 536.3,417.4 537.2,417.3 C538.1,417.1 539.5,417.0 540.0,417.0 M561.0,429.0 L561.0,413.0 L588.0,429.0 L588.0,413.0" stroke="#080808" stroke-width="4.0"/>
<path d="M662.0,604.0 C660.5,600.3 654.7,589.3 653.0,582.0 C651.3,574.7 651.0,571.8 652.0,560.0 C653.0,548.2 654.3,526.5 659.0,511.0 C663.7,495.5 670.5,480.5 680.0,467.0 C689.5,453.5 699.8,441.0 716.0,430.0 C732.2,419.0 753.7,406.5 777.0,401.0 C800.3,395.5 829.8,395.3 856.0,397.0 C882.2,398.7 913.8,405.2 934.0,411.0 C954.2,416.8 965.0,425.3 977.0,432.0 C989.0,438.7 997.2,443.2 1006.0,451.0 C1014.8,458.8 1022.3,469.3 1030.0,479.0 C1037.7,488.7 1044.5,500.7 1052.0,509.0 C1059.5,517.3 1068.7,522.8 1075.0,529.0 C1081.3,535.2 1085.0,538.3 1090.0,546.0 C1095.0,553.7 1098.2,562.7 1105.0,575.0 C1111.8,587.3 1126.7,612.5 1131.0,620.0" stroke="#a94660" stroke-width="2.6"/>
<path d="M1105.0,575.0 C1109.3,582.5 1124.8,604.8 1131.0,620.0 C1137.2,635.2 1139.2,650.8 1142.0,666.0 C1144.8,681.2 1146.5,695.5 1148.0,711.0 C1149.5,726.5 1150.0,742.8 1151.0,759.0 C1152.0,775.2 1152.5,795.3 1154.0,808.0 C1155.5,820.7 1157.5,827.0 1160.0,835.0 C1162.5,843.0 1163.0,849.3 1169.0,856.0 C1175.0,862.7 1189.7,870.0 1196.0,875.0 C1202.3,880.0 1205.2,884.2 1207.0,886.0" stroke="#c4405e" stroke-width="3.0"/>
<path d="M1211.0,392.0 C1211.2,394.8 1212.5,403.7 1212.0,409.0 C1211.5,414.3 1211.8,418.0 1208.0,424.0 C1204.2,430.0 1197.7,437.5 1189.0,445.0 C1180.3,452.5 1167.8,461.5 1156.0,469.0 C1144.2,476.5 1130.5,481.5 1118.0,490.0 C1105.5,498.5 1092.0,510.0 1081.0,520.0 C1070.0,530.0 1059.8,540.3 1052.0,550.0 C1044.2,559.7 1039.5,569.7 1034.0,578.0 C1028.5,586.3 1025.7,588.0 1019.0,600.0 C1012.3,612.0 1001.0,636.8 994.0,650.0 C987.0,663.2 982.7,668.5 977.0,679.0 C971.3,689.5 964.8,700.8 960.0,713.0 C955.2,725.2 951.7,738.2 948.0,752.0 C944.3,765.8 940.2,780.7 938.0,796.0 C935.8,811.3 934.7,830.0 935.0,844.0 C935.3,858.0 938.2,869.5 940.0,880.0 C941.8,890.5 942.8,898.2 946.0,907.0 C949.2,915.8 954.8,924.2 959.0,933.0 C963.2,941.8 966.7,949.5 971.0,960.0 C975.3,970.5 979.0,985.7 985.0,996.0 C991.0,1006.3 999.0,1013.2 1007.0,1022.0 C1015.0,1030.8 1024.2,1040.7 1033.0,1049.0 C1041.8,1057.3 1049.5,1063.7 1060.0,1072.0 C1070.5,1080.3 1084.8,1092.7 1096.0,1099.0 C1107.2,1105.3 1112.5,1106.5 1127.0,1110.0 C1141.5,1113.5 1166.7,1119.2 1183.0,1120.0 C1199.3,1120.8 1215.2,1117.7 1225.0,1115.0 C1234.8,1112.3 1238.0,1107.7 1242.0,1104.0 C1246.0,1100.3 1248.2,1097.7 1249.0,1093.0 C1249.8,1088.3 1247.3,1078.8 1247.0,1076.0" stroke="#c6425f" stroke-width="3.3"/>
<path d="M1282.0,386.0 C1282.5,387.3 1284.5,390.2 1285.0,394.0 C1285.5,397.8 1287.5,403.7 1285.0,409.0 C1282.5,414.3 1278.5,420.7 1270.0,426.0 C1261.5,431.3 1245.3,437.7 1234.0,441.0 C1222.7,444.3 1213.5,443.8 1202.0,446.0 C1190.5,448.2 1180.5,450.3 1165.0,454.0 C1149.5,457.7 1124.7,463.8 1109.0,468.0 C1093.3,472.2 1082.0,475.0 1071.0,479.0 C1060.0,483.0 1052.3,487.0 1043.0,492.0 C1033.7,497.0 1024.3,501.8 1015.0,509.0 C1005.7,516.2 994.8,525.7 987.0,535.0 C979.2,544.3 972.7,554.2 968.0,565.0 C963.3,575.8 961.2,590.0 959.0,600.0 C956.8,610.0 955.5,616.7 955.0,625.0 C954.5,633.3 954.8,640.5 956.0,650.0 C957.2,659.5 960.5,672.7 962.0,682.0 C963.5,691.3 965.0,698.3 965.0,706.0 C965.0,713.7 962.5,724.3 962.0,728.0" stroke="#080808" stroke-width="3.8"/>
<path d="M769.0,614.0 C770.7,612.7 773.0,607.3 779.0,606.0 C785.0,604.7 794.5,603.2 805.0,606.0 C815.5,608.8 829.5,615.2 842.0,623.0 C854.5,630.8 869.7,644.5 880.0,653.0 C890.3,661.5 895.8,666.3 904.0,674.0 C912.2,681.7 921.7,691.3 929.0,699.0 C936.3,706.7 942.7,715.2 948.0,720.0 C953.3,724.8 955.3,725.5 961.0,728.0 C966.7,730.5 975.3,731.3 982.0,735.0 C988.7,738.7 996.0,744.0 1001.0,750.0 C1006.0,756.0 1009.2,761.3 1012.0,771.0 C1014.8,780.7 1015.7,793.8 1018.0,808.0 C1020.3,822.2 1023.2,842.7 1026.0,856.0 C1028.8,869.3 1032.3,879.5 1035.0,888.0 C1037.7,896.5 1039.0,901.0 1042.0,907.0 C1045.0,913.0 1047.0,916.7 1053.0,924.0 C1059.0,931.3 1070.8,943.5 1078.0,951.0 C1085.2,958.5 1090.3,964.0 1096.0,969.0 C1101.7,974.0 1109.3,979.0 1112.0,981.0" stroke="#080808" stroke-width="3.8"/>
<path d="M432.0,1094.0 C441.0,1093.3 469.5,1089.7 486.0,1090.0 C502.5,1090.3 517.2,1093.2 531.0,1096.0 C544.8,1098.8 552.2,1103.0 569.0,1107.0 C585.8,1111.0 607.0,1115.7 632.0,1120.0 C657.0,1124.3 689.0,1128.7 719.0,1133.0 C749.0,1137.3 784.0,1142.5 812.0,1146.0 C840.0,1149.5 855.7,1151.0 887.0,1154.0 C918.3,1157.0 964.8,1160.2 1000.0,1164.0 C1035.2,1167.8 1065.2,1172.0 1098.0,1177.0 C1130.8,1182.0 1166.7,1189.2 1197.0,1194.0 C1227.3,1198.8 1257.0,1204.3 1280.0,1206.0 C1303.0,1207.7 1320.5,1205.8 1335.0,1204.0 C1349.5,1202.2 1357.2,1199.5 1367.0,1195.0 C1376.8,1190.5 1387.0,1184.3 1394.0,1177.0 C1401.0,1169.7 1406.0,1160.5 1409.0,1151.0 C1412.0,1141.5 1412.3,1130.8 1412.0,1120.0 C1411.7,1109.2 1410.0,1096.8 1407.0,1086.0 C1404.0,1075.2 1399.8,1063.8 1394.0,1055.0 C1388.2,1046.2 1380.0,1040.0 1372.0,1033.0 C1364.0,1026.0 1354.0,1019.2 1346.0,1013.0 C1338.0,1006.8 1329.5,1001.2 1324.0,996.0 C1318.5,990.8 1314.8,984.3 1313.0,982.0" stroke="#080808" stroke-width="2.8"/>
<path d="M1063.0,546.0 L1101.0,531.0" stroke="#da3555" stroke-width="4.2"/>
<path d="M1101.0,531.0 C1102.2,531.5 1106.2,532.5 1108.0,534.0 C1109.8,535.5 1111.3,539.0 1112.0,540.0" stroke="#da3555" stroke-width="4.2"/>
<path d="M1066.0,551.0 C1068.3,556.7 1074.2,571.3 1080.0,585.0 C1085.8,598.7 1094.5,619.3 1101.0,633.0 C1107.5,646.7 1116.0,661.3 1119.0,667.0" stroke="#da3555" stroke-width="4.2"/>
<path d="M1110.0,536.0 C1113.5,541.5 1123.8,556.5 1131.0,569.0 C1138.2,581.5 1147.2,598.7 1153.0,611.0 C1158.8,623.3 1163.0,637.3 1166.0,643.0 C1169.0,648.7 1170.2,644.7 1171.0,645.0" stroke="#da3555" stroke-width="4.2"/>
<path d="M1126.0,670.0 L1171.0,645.0" stroke="#da3555" stroke-width="4.2"/>
<path d="M1090.0,539.0 L1083.0,573.0" stroke="#da3555" stroke-width="4.2"/>
<path d="M1103.0,541.0 L1093.0,586.0" stroke="#da3555" stroke-width="4.2"/>
<path d="M1112.0,554.0 L1101.0,619.0" stroke="#da3555" stroke-width="4.2"/>
<path d="M1126.0,567.0 L1110.0,630.0" stroke="#da3555" stroke-width="4.2"/>
<path d="M1134.0,590.0 L1120.0,649.0" stroke="#da3555" stroke-width="4.2"/>
<path d="M1147.0,606.0 L1131.0,661.0" stroke="#da3555" stroke-width="4.2"/>
<path d="M1160.0,625.0 L1155.0,664.0" stroke="#da3555" stroke-width="4.2"/>
<path d="M1177.0,193.0 C1183.0,190.5 1199.8,182.2 1213.0,178.0 C1226.2,173.8 1244.3,169.0 1256.0,168.0 C1267.7,167.0 1278.0,170.7 1283.0,172.0 C1288.0,173.3 1285.5,175.3 1286.0,176.0" stroke="#1c3cc8" stroke-width="4.6"/>
<path d="M1180.0,196.0 C1180.3,207.8 1180.5,238.7 1182.0,267.0 C1183.5,295.3 1187.8,349.5 1189.0,366.0" stroke="#1c3cc8" stroke-width="4.6"/>
<path d="M1286.0,176.0 C1285.5,182.2 1283.8,197.8 1283.0,213.0 C1282.2,228.2 1280.7,247.7 1281.0,267.0 C1281.3,286.3 1283.5,314.2 1285.0,329.0 C1286.5,343.8 1288.7,347.5 1290.0,356.0 C1291.3,364.5 1291.7,373.0 1293.0,380.0 C1294.3,387.0 1297.2,395.0 1298.0,398.0" stroke="#1c3cc8" stroke-width="4.6"/>
<path d="M1305.0,183.0 C1303.7,183.8 1299.0,185.7 1297.0,188.0 C1295.0,190.3 1293.7,195.5 1293.0,197.0" stroke="#1c3cc8" stroke-width="4.6"/>
<path d="M1295.0,196.0 C1299.2,194.5 1311.3,188.3 1320.0,187.0 C1328.7,185.7 1336.7,184.2 1347.0,188.0 C1357.3,191.8 1371.7,199.8 1382.0,210.0 C1392.3,220.2 1402.5,236.0 1409.0,249.0 C1415.5,262.0 1419.8,276.2 1421.0,288.0 C1422.2,299.8 1421.0,310.8 1416.0,320.0 C1411.0,329.2 1402.5,337.8 1391.0,343.0 C1379.5,348.2 1360.3,351.2 1347.0,351.0 C1333.7,350.8 1321.3,345.3 1311.0,342.0 C1300.7,338.7 1292.3,335.2 1285.0,331.0 C1277.7,326.8 1271.0,324.2 1267.0,317.0 C1263.0,309.8 1260.7,298.7 1261.0,288.0 C1261.3,277.3 1265.0,266.0 1269.0,253.0 C1273.0,240.0 1280.7,219.5 1285.0,210.0 C1289.3,200.5 1293.3,198.3 1295.0,196.0" stroke="#2235a8" stroke-width="3.8"/>
<path d="M1285.0,331.0 L1302.0,350.0" stroke="#1c3cc8" stroke-width="2.2"/>
<path d="M1197.0,352.0 L1222.0,352.0" stroke="#1c3cc8" stroke-width="4.6"/>
<path d="M1210.0,342.0 L1210.0,363.0" stroke="#1c3cc8" stroke-width="4.6"/>
<path d="M1254.0,353.0 L1278.0,353.0" stroke="#1c3cc8" stroke-width="4.6"/>
<path d="M1174.0,374.0 C1183.5,373.7 1212.0,373.3 1231.0,372.0 C1250.0,370.7 1278.5,367.0 1288.0,366.0" stroke="#1c3cc8" stroke-width="4.6"/>
<path d="M1193.0,376.0 L1199.0,409.0 L1242.0,405.0" stroke="#1c3cc8" stroke-width="4.6"/>
<path d="M1223.0,374.0 L1230.0,412.0" stroke="#1c3cc8" stroke-width="4.6"/>
<path d="M1267.0,370.0 L1272.0,400.0 L1298.0,398.0" stroke="#1c3cc8" stroke-width="4.6"/>
<path d="M601.0,633.0 L608.0,734.0" stroke="#1c3cc8" stroke-width="4.6"/>
<path d="M610.0,629.0 C623.7,629.8 659.2,633.3 692.0,634.0 C724.8,634.7 787.8,633.2 807.0,633.0" stroke="#1c3cc8" stroke-width="4.6"/>
<path d="M806.0,632.0 L812.0,722.0" stroke="#1c3cc8" stroke-width="4.6"/>
<path d="M611.0,752.0 C624.5,751.5 658.2,750.8 692.0,749.0 C725.8,747.2 793.7,742.3 814.0,741.0" stroke="#1c3cc8" stroke-width="4.6"/>
<path d="M636.0,599.0 L637.0,631.0" stroke="#1c3cc8" stroke-width="4.6"/>
<path d="M632.0,612.0 C636.8,612.3 652.8,614.7 661.0,614.0 C669.2,613.3 677.7,609.0 681.0,608.0" stroke="#1c3cc8" stroke-width="4.6"/>
<path d="M682.0,608.0 C682.3,612.0 683.2,625.7 684.0,632.0 C684.8,638.3 686.5,643.7 687.0,646.0" stroke="#1c3cc8" stroke-width="4.6"/>
<path d="M744.0,632.0 L739.0,606.0" stroke="#1c3cc8" stroke-width="4.6"/>
<path d="M738.0,606.0 C742.8,605.3 760.2,602.3 767.0,602.0 C773.8,601.7 777.0,603.7 779.0,604.0" stroke="#1c3cc8" stroke-width="4.6"/>
<path d="M784.0,608.0 L783.0,642.0" stroke="#1c3cc8" stroke-width="4.6"/>
<path d="M642.0,660.0 L676.0,660.0" stroke="#1c3cc8" stroke-width="4.6"/>
<path d="M659.0,648.0 L660.0,677.0" stroke="#1c3cc8" stroke-width="4.6"/>
<path d="M749.0,662.0 L789.0,662.0" stroke="#1c3cc8" stroke-width="4.6"/>
<path d="M1076.0,898.0 C1083.3,897.0 1098.3,894.0 1120.0,892.0 C1141.7,890.0 1168.5,888.2 1206.0,886.0 C1243.5,883.8 1321.8,880.2 1345.0,879.0" stroke="#1c3cc8" stroke-width="4.6"/>
<path d="M1090.0,900.0 C1090.5,910.0 1091.8,945.5 1093.0,960.0 C1094.2,974.5 1096.5,978.2 1097.0,987.0 C1097.5,995.8 1097.0,1004.5 1096.0,1013.0 C1095.0,1021.5 1091.8,1033.8 1091.0,1038.0" stroke="#1c3cc8" stroke-width="4.6"/>
<path d="M1091.0,1038.0 L1087.0,1043.0 L1091.0,1046.0" stroke="#1c3cc8" stroke-width="3.5"/>
<path d="M1091.0,1046.0 C1091.2,1049.2 1091.5,1058.3 1092.0,1065.0 C1092.5,1071.7 1093.7,1082.5 1094.0,1086.0" stroke="#1c3cc8" stroke-width="4.6"/>
<path d="M1341.0,881.0 C1341.7,890.8 1343.8,919.2 1345.0,940.0 C1346.2,960.8 1347.0,982.8 1348.0,1006.0 C1349.0,1029.2 1350.5,1066.8 1351.0,1079.0" stroke="#1c3cc8" stroke-width="4.6"/>
<path d="M1105.0,1090.0 C1121.8,1089.7 1164.3,1089.8 1206.0,1088.0 C1247.7,1086.2 1330.2,1080.5 1355.0,1079.0" stroke="#1c3cc8" stroke-width="4.6"/>
<path d="M1210.0,889.0 L1214.0,925.0" stroke="#1c3cc8" stroke-width="4.6"/>
<path d="M1104.0,986.0 L1145.0,983.0" stroke="#1c3cc8" stroke-width="4.6"/>
<path d="M1281.0,986.0 C1285.0,985.3 1297.2,983.8 1305.0,982.0 C1312.8,980.2 1324.2,976.2 1328.0,975.0" stroke="#1c3cc8" stroke-width="4.6"/>
<path d="M1207.0,1037.0 L1210.0,1075.0" stroke="#1c3cc8" stroke-width="4.6"/>
<path d="M256.0,912.0 C255.3,916.5 253.3,930.0 252.0,939.0 C250.7,948.0 248.7,961.5 248.0,966.0" stroke="#1c3cc8" stroke-width="4.6"/>
<path d="M248.0,966.0 C249.5,969.2 252.7,980.3 257.0,985.0 C261.3,989.7 263.5,992.7 274.0,994.0 C284.5,995.3 303.5,994.0 320.0,993.0 C336.5,992.0 364.2,988.8 373.0,988.0" stroke="#1c3cc8" stroke-width="4.6"/>
<path d="M248.0,966.0 C246.8,973.3 240.3,995.3 241.0,1010.0 C241.7,1024.7 244.7,1041.2 252.0,1054.0 C259.3,1066.8 270.3,1080.7 285.0,1087.0 C299.7,1093.3 322.5,1091.3 340.0,1092.0 C357.5,1092.7 381.7,1091.2 390.0,1091.0" stroke="#1c3cc8" stroke-width="4.6"/>
<path d="M376.0,966.0 L378.0,999.0" stroke="#1c3cc8" stroke-width="4.6"/>
<path d="M374.0,965.0 L409.0,960.0 L410.0,1003.0" stroke="#1c3cc8" stroke-width="4.6"/>
<path d="M381.0,1009.0 L410.0,1004.0" stroke="#1c3cc8" stroke-width="4.6"/>
<path d="M409.0,936.0 L439.0,936.0" stroke="#1c3cc8" stroke-width="4.6"/>
<path d="M395.0,1068.0 L396.0,1108.0" stroke="#1c3cc8" stroke-width="4.6"/>
<path d="M390.0,1066.0 C393.7,1066.3 406.3,1066.3 412.0,1068.0 C417.7,1069.7 422.0,1074.7 424.0,1076.0" stroke="#1c3cc8" stroke-width="4.6"/>
<path d="M424.0,1076.0 C424.2,1079.2 424.7,1088.8 425.0,1095.0 C425.3,1101.2 425.8,1110.0 426.0,1113.0" stroke="#1c3cc8" stroke-width="4.6"/>
<path d="M392.0,1117.0 L412.0,1115.0 L430.0,1112.0" stroke="#1c3cc8" stroke-width="4.6"/>
<path d="M427.0,1055.0 L449.0,1055.0" stroke="#1c3cc8" stroke-width="4.6"/>
<path d="M438.0,1044.0 L438.0,1068.0" stroke="#1c3cc8" stroke-width="4.6"/>
<path d="M1336.0,95.0 L1334.0,153.0" stroke="#1c3cc8" stroke-width="5.4"/>
<path d="M1353.0,114.0 L1352.0,148.0" stroke="#1c3cc8" stroke-width="5.4"/>
<path d="M1335.0,131.0 L1357.0,130.0" stroke="#1c3cc8" stroke-width="5.4"/>
<path d="M1378.0,117.7 C1378.5,117.8 1380.0,117.9 1380.9,118.4 C1381.8,118.9 1382.7,119.6 1383.5,120.4 C1384.2,121.3 1385.0,122.4 1385.5,123.6 C1386.1,124.8 1386.5,126.2 1386.8,127.6 C1387.1,129.0 1387.3,130.5 1387.3,132.0 C1387.3,133.5 1387.1,135.0 1386.8,136.4 C1386.5,137.8 1386.1,139.2 1385.5,140.4 C1385.0,141.6 1384.2,142.7 1383.5,143.6 C1382.7,144.4 1381.8,145.1 1380.9,145.6 C1380.0,146.1 1379.0,146.3 1378.0,146.3 C1377.0,146.3 1376.0,146.1 1375.1,145.6 C1374.2,145.1 1373.3,144.4 1372.5,143.6 C1371.8,142.7 1371.0,141.6 1370.5,140.4 C1369.9,139.2 1369.5,137.8 1369.2,136.4 C1368.9,135.0 1368.7,133.5 1368.7,132.0 C1368.7,130.5 1368.9,129.0 1369.2,127.6 C1369.5,126.2 1369.9,124.8 1370.5,123.6 C1371.0,122.4 1371.8,121.3 1372.5,120.4 C1373.3,119.6 1374.2,118.9 1375.1,118.4 C1376.0,117.9 1377.5,117.8 1378.0,117.7" stroke="#1c3cc8" stroke-width="5.4"/>
<path d="M1405.7,151.3 L1405.7,118.7 M1405.7,118.7 C1408.3,118.7 1416.8,117.9 1421.1,118.7 C1425.3,119.5 1429.8,121.5 1431.3,123.6 C1432.8,125.7 1431.7,129.2 1430.0,131.1 C1428.3,133.0 1425.1,134.3 1421.1,135.0 C1417.0,135.7 1408.3,135.0 1405.7,135.0 M1413.4,135.0 L1431.3,148.0" stroke="#1c3cc8" stroke-width="5.4"/>
<path d="M1431.7,151.3 L1431.7,121.7 L1461.3,151.3 L1461.3,121.7" stroke="#1c3cc8" stroke-width="5.4"/>
<path d="M674.9,514.9 L674.9,561.1 M674.9,514.9 C676.8,514.9 683.1,514.1 686.0,514.9 C688.9,515.7 691.2,517.2 692.2,519.5 C693.3,521.8 693.3,526.3 692.2,528.8 C691.2,531.2 688.7,533.3 686.0,534.3 C683.3,535.3 677.7,534.7 676.0,534.8 M676.0,534.8 C678.1,535.0 685.1,534.4 688.7,536.2 C692.2,537.9 696.1,541.9 697.1,545.4 C698.1,548.9 696.5,554.8 694.9,557.4 C693.2,560.0 690.4,560.5 687.1,561.1 C683.8,561.7 676.9,561.1 674.9,561.1 M706.9,553.0 L719.7,515.9 L734.1,557.1 M710.7,542.3 L728.7,540.6 M731.9,520.9 L754.1,519.9 M743.0,520.4 L743.7,544.1 M757.9,510.3 L773.1,508.9 M765.5,509.6 L766.0,543.1 M793.9,512.9 L779.9,514.3 L779.9,548.1 L795.1,547.0 M779.9,530.5 L791.8,529.4 M808.9,540.1 L808.9,509.9 M808.9,509.9 C811.0,509.9 818.1,509.1 821.6,509.9 C825.2,510.7 828.9,512.5 830.1,514.4 C831.3,516.3 830.5,519.6 829.0,521.4 C827.6,523.1 825.0,524.4 821.6,525.0 C818.3,525.6 811.0,525.0 808.9,525.0 M815.3,525.0 L830.1,537.1 M835.9,508.5 L854.0,535.6 M865.1,505.9 L859.3,531.5 L854.0,557.1" stroke="#1c3cc8" stroke-width="5.8"/>
<path d="M1150.3,574.6 C1150.9,573.8 1152.1,570.9 1153.5,570.1 C1154.8,569.3 1157.2,568.9 1158.5,569.7 C1159.9,570.5 1161.5,573.0 1161.7,574.6 C1161.9,576.2 1160.9,577.9 1159.8,579.5 C1158.6,581.1 1156.4,582.8 1154.7,584.4 C1153.1,586.0 1150.5,588.5 1149.7,589.3 M1149.7,589.3 L1162.3,589.3" stroke="#1c3cc8" stroke-width="5.4"/>
<path d="M1175.5,571.7 C1175.8,571.8 1176.7,571.9 1177.3,572.2 C1177.9,572.5 1178.4,573.0 1178.9,573.7 C1179.4,574.3 1179.8,575.1 1180.2,575.9 C1180.5,576.8 1180.8,577.8 1181.0,578.8 C1181.2,579.8 1181.3,580.9 1181.3,582.0 C1181.3,583.1 1181.2,584.2 1181.0,585.2 C1180.8,586.2 1180.5,587.2 1180.2,588.1 C1179.8,588.9 1179.4,589.7 1178.9,590.3 C1178.4,591.0 1177.9,591.5 1177.3,591.8 C1176.7,592.1 1176.1,592.3 1175.5,592.3 C1174.9,592.3 1174.3,592.1 1173.7,591.8 C1173.1,591.5 1172.6,591.0 1172.1,590.3 C1171.6,589.7 1171.2,588.9 1170.8,588.1 C1170.5,587.2 1170.2,586.2 1170.0,585.2 C1169.8,584.2 1169.7,583.1 1169.7,582.0 C1169.7,580.9 1169.8,579.8 1170.0,578.8 C1170.2,577.8 1170.5,576.8 1170.8,575.9 C1171.2,575.1 1171.6,574.3 1172.1,573.7 C1172.6,573.0 1173.1,572.5 1173.7,572.2 C1174.3,571.9 1175.2,571.8 1175.5,571.7" stroke="#1c3cc8" stroke-width="5.4"/>
<path d="M1206.7,592.0 L1213.6,562.7 L1221.3,595.3 M1208.7,583.6 L1218.4,582.3" stroke="#1c3cc8" stroke-width="5.4"/>
<path d="M1223.7,595.3 L1223.7,581.9 M1223.7,584.0 C1224.9,583.5 1228.8,580.9 1231.1,580.9 C1233.4,580.9 1236.5,581.6 1237.6,584.0 C1238.7,586.4 1237.6,593.4 1237.6,595.3 M1237.6,584.0 C1238.8,583.5 1242.6,580.9 1245.0,580.9 C1247.4,580.9 1250.7,581.6 1251.8,584.0 C1253.0,586.4 1251.8,593.4 1251.8,595.3" stroke="#1c3cc8" stroke-width="5.4"/>
<path d="M1266.7,571.9 L1266.7,594.8 M1266.7,571.9 C1267.6,571.6 1270.4,569.7 1271.9,570.4 C1273.3,571.0 1275.0,573.7 1275.3,575.6 C1275.6,577.4 1275.0,580.5 1273.6,581.7 C1272.1,582.8 1267.8,582.4 1266.7,582.6" stroke="#1c3cc8" stroke-width="5.4"/>
<path d="M1327.3,574.7 L1309.7,574.7 L1309.7,599.3 M1309.7,587.0 L1323.8,587.0 M1335.7,576.7 C1335.7,579.6 1335.3,589.9 1335.7,594.0 C1336.1,598.1 1336.7,599.6 1337.9,601.2 C1339.1,602.7 1341.3,603.3 1343.0,603.3 C1344.7,603.3 1346.9,602.7 1348.1,601.2 C1349.3,599.6 1349.9,598.1 1350.3,594.0 C1350.7,589.9 1350.3,579.6 1350.3,576.7 M1370.7,577.4 C1369.9,576.9 1367.8,575.0 1366.3,574.7 C1364.7,574.4 1362.4,574.7 1361.2,575.8 C1360.1,576.9 1359.1,579.5 1359.3,581.4 C1359.5,583.2 1361.1,585.3 1362.5,586.7 C1363.8,588.0 1366.1,588.0 1367.5,589.3 C1368.9,590.7 1370.8,592.9 1371.0,594.6 C1371.3,596.4 1370.0,598.9 1368.8,600.0 C1367.6,601.1 1365.4,601.5 1363.7,601.3 C1362.1,601.1 1359.9,599.1 1359.1,598.6 M1392.3,573.7 L1380.7,574.8 L1380.7,600.3 L1393.3,599.5 M1380.7,587.0 L1390.5,586.2" stroke="#1c3cc8" stroke-width="5.4"/>
<path d="M150.5,804.7 C151.2,804.9 153.2,805.1 154.5,805.8 C155.7,806.5 157.0,807.7 158.0,809.1 C159.1,810.4 160.1,812.2 160.9,814.1 C161.6,816.0 162.3,818.2 162.7,820.5 C163.1,822.7 163.3,825.2 163.3,827.5 C163.3,829.8 163.1,832.3 162.7,834.5 C162.3,836.8 161.6,839.0 160.9,840.9 C160.1,842.8 159.1,844.6 158.0,845.9 C157.0,847.3 155.7,848.5 154.5,849.2 C153.2,849.9 151.8,850.3 150.5,850.3 C149.2,850.3 147.8,849.9 146.5,849.2 C145.3,848.5 144.0,847.3 143.0,845.9 C141.9,844.6 140.9,842.8 140.1,840.9 C139.4,839.0 138.7,836.8 138.3,834.5 C137.9,832.3 137.7,829.8 137.7,827.5 C137.7,825.2 137.9,822.7 138.3,820.5 C138.7,818.2 139.4,816.0 140.1,814.1 C140.9,812.2 141.9,810.4 143.0,809.1 C144.0,807.7 145.3,806.5 146.5,805.8 C147.8,805.1 149.8,804.9 150.5,804.7" stroke="#1c3cc8" stroke-width="5.4"/>
<path d="M178.7,806.7 L178.7,848.3 L197.3,846.2" stroke="#1c3cc8" stroke-width="5.4"/>
<path d="M203.7,818.7 L203.7,849.3 M203.7,818.7 C205.4,818.8 210.5,818.2 213.9,819.3 C217.3,820.4 222.0,823.0 224.0,825.4 C226.1,827.9 226.3,831.1 226.3,834.0 C226.3,836.9 226.1,840.1 224.0,842.6 C222.0,845.0 217.3,847.6 213.9,848.7 C210.5,849.8 205.4,849.2 203.7,849.3" stroke="#1c3cc8" stroke-width="5.4"/>
<path d="M260.7,814.7 L260.7,853.3 M280.3,814.7 L280.3,853.3 M260.7,834.0 L280.3,834.0" stroke="#1c3cc8" stroke-width="5.4"/>
<path d="M298.0,823.7 C298.3,823.8 299.1,823.9 299.6,824.3 C300.2,824.7 300.7,825.2 301.1,826.0 C301.6,826.7 302.0,827.6 302.3,828.6 C302.6,829.5 302.9,830.7 303.0,831.9 C303.2,833.0 303.3,834.3 303.3,835.5 C303.3,836.7 303.2,838.0 303.0,839.1 C302.9,840.3 302.6,841.5 302.3,842.4 C302.0,843.4 301.6,844.3 301.1,845.0 C300.7,845.8 300.2,846.3 299.6,846.7 C299.1,847.1 298.5,847.3 298.0,847.3 C297.5,847.3 296.9,847.1 296.4,846.7 C295.8,846.3 295.3,845.8 294.9,845.0 C294.4,844.3 294.0,843.4 293.7,842.4 C293.4,841.5 293.1,840.3 293.0,839.1 C292.8,838.0 292.7,836.7 292.7,835.5 C292.7,834.3 292.8,833.0 293.0,831.9 C293.1,830.7 293.4,829.5 293.7,828.6 C294.0,827.6 294.4,826.7 294.9,826.0 C295.3,825.2 295.8,824.7 296.4,824.3 C296.9,823.9 297.7,823.8 298.0,823.7" stroke="#1c3cc8" stroke-width="5.4"/>
<path d="M317.7,844.3 L317.7,816.7 M317.7,816.7 C319.8,816.7 326.6,816.0 330.1,816.7 C333.5,817.4 337.1,819.1 338.3,820.8 C339.5,822.6 338.6,825.6 337.3,827.2 C335.9,828.8 333.3,829.9 330.1,830.5 C326.8,831.1 319.8,830.5 317.7,830.5 M323.9,830.5 L338.3,841.5" stroke="#1c3cc8" stroke-width="5.4"/>
<path d="M346.7,847.3 L346.7,812.7 L376.3,847.3 L376.3,812.7" stroke="#1c3cc8" stroke-width="5.4"/>
<path d="M178.5,876.5 C178.3,876.0 177.8,874.5 177.5,873.8 C177.1,873.1 176.6,872.5 176.2,872.2 C175.7,871.8 175.2,871.7 174.8,871.7 C174.3,871.8 173.8,872.0 173.4,872.5 C173.0,873.0 172.5,873.6 172.2,874.4 C171.8,875.3 171.5,876.3 171.2,877.4 C170.9,878.5 170.7,879.7 170.6,881.0 C170.4,882.3 170.4,883.7 170.4,885.0 C170.4,886.3 170.4,887.7 170.6,889.0 C170.7,890.3 170.9,891.5 171.2,892.6 C171.5,893.7 171.8,894.7 172.2,895.6 C172.5,896.4 173.0,897.0 173.4,897.5 C173.8,898.0 174.3,898.2 174.8,898.3 C175.2,898.3 175.7,898.2 176.2,897.8 C176.6,897.5 177.1,896.9 177.5,896.2 C177.8,895.5 178.3,894.0 178.5,893.5 M199.0,873.7 C199.5,873.8 201.2,873.9 202.2,874.2 C203.2,874.5 204.2,875.0 205.1,875.7 C205.9,876.3 206.7,877.1 207.3,877.9 C208.0,878.8 208.5,879.8 208.8,880.8 C209.1,881.8 209.3,882.9 209.3,884.0 C209.3,885.1 209.1,886.2 208.8,887.2 C208.5,888.2 208.0,889.2 207.3,890.1 C206.7,890.9 205.9,891.7 205.1,892.3 C204.2,893.0 203.2,893.5 202.2,893.8 C201.2,894.1 200.1,894.3 199.0,894.3 C197.9,894.3 196.8,894.1 195.8,893.8 C194.8,893.5 193.8,893.0 192.9,892.3 C192.1,891.7 191.3,890.9 190.7,890.1 C190.0,889.2 189.5,888.2 189.2,887.2 C188.9,886.2 188.7,885.1 188.7,884.0 C188.7,882.9 188.9,881.8 189.2,880.8 C189.5,879.8 190.0,878.8 190.7,877.9 C191.3,877.1 192.1,876.3 192.9,875.7 C193.8,875.0 194.8,874.5 195.8,874.2 C196.8,873.9 198.5,873.8 199.0,873.7 M220.7,894.3 L220.7,869.7 L241.3,894.3 L241.3,869.7 M253.7,890.3 L253.7,867.7 L273.3,890.3 L273.3,867.7 M298.8,868.7 L281.7,869.8 L281.7,895.3 L300.3,894.5 M281.7,882.0 L296.2,881.2 M324.0,873.1 C323.7,872.7 322.9,871.3 322.3,870.6 C321.7,870.0 320.9,869.4 320.2,869.1 C319.5,868.8 318.7,868.7 318.0,868.7 C317.2,868.8 316.4,869.0 315.7,869.4 C315.0,869.9 314.3,870.5 313.7,871.2 C313.1,872.0 312.6,872.9 312.1,873.9 C311.7,875.0 311.4,876.1 311.1,877.3 C310.9,878.5 310.8,879.8 310.8,881.0 C310.8,882.2 310.9,883.5 311.1,884.7 C311.4,885.9 311.7,887.0 312.1,888.1 C312.6,889.1 313.1,890.0 313.7,890.8 C314.3,891.5 315.0,892.1 315.7,892.6 C316.4,893.0 317.2,893.2 318.0,893.3 C318.7,893.3 319.5,893.2 320.2,892.9 C320.9,892.6 321.7,892.0 322.3,891.4 C322.9,890.7 323.7,889.3 324.0,888.9 M330.7,866.6 L350.3,865.7 M340.5,866.2 L341.1,889.3 M363.0,869.7 L363.0,889.3 M383.0,869.7 C383.4,869.8 384.5,869.9 385.3,870.2 C386.0,870.6 386.7,871.1 387.3,871.8 C387.9,872.4 388.5,873.3 388.9,874.2 C389.3,875.1 389.7,876.1 389.9,877.2 C390.2,878.2 390.3,879.4 390.3,880.5 C390.3,881.6 390.2,882.8 389.9,883.8 C389.7,884.9 389.3,885.9 388.9,886.8 C388.5,887.7 387.9,888.6 387.3,889.2 C386.7,889.9 386.0,890.4 385.3,890.8 C384.5,891.1 383.8,891.3 383.0,891.3 C382.2,891.3 381.5,891.1 380.7,890.8 C380.0,890.4 379.3,889.9 378.7,889.2 C378.1,888.6 377.5,887.7 377.1,886.8 C376.7,885.9 376.3,884.9 376.1,883.8 C375.8,882.8 375.7,881.6 375.7,880.5 C375.7,879.4 375.8,878.2 376.1,877.2 C376.3,876.1 376.7,875.1 377.1,874.2 C377.5,873.3 378.1,872.4 378.7,871.8 C379.3,871.1 380.0,870.6 380.7,870.2 C381.5,869.9 382.6,869.8 383.0,869.7 M405.7,891.3 L405.7,865.7 L428.3,891.3 L428.3,865.7" stroke="#1c3cc8" stroke-width="5.4"/>
<path d="M1188.7,867.3 L1188.7,832.7 M1188.7,832.7 C1191.3,832.7 1199.8,831.8 1204.1,832.7 C1208.3,833.6 1212.8,835.7 1214.3,837.9 C1215.8,840.1 1214.7,843.8 1213.0,845.8 C1211.3,847.9 1208.1,849.3 1204.1,850.0 C1200.0,850.7 1191.3,850.0 1188.7,850.0 M1196.4,850.0 L1214.3,863.8 M1237.9,837.7 L1221.7,838.8 L1221.7,864.3 L1239.3,863.5 M1221.7,851.0 L1235.4,850.2 M1249.7,837.7 L1249.7,862.3 L1270.3,861.1 M1278.7,858.3 L1286.5,831.7 L1295.3,861.3 M1281.0,850.6 L1292.0,849.5 M1303.7,834.5 L1317.7,853.3 M1326.3,832.7 L1321.8,850.5 L1317.7,868.3" stroke="#1c3cc8" stroke-width="5.4"/>
<path d="M1240.0,901.7 C1240.4,901.8 1241.5,901.8 1242.1,902.1 C1242.8,902.4 1243.4,902.8 1243.9,903.3 C1244.4,903.8 1244.9,904.4 1245.1,905.0 C1245.4,905.7 1245.5,906.4 1245.5,907.1 C1245.5,907.8 1245.4,908.6 1245.1,909.2 C1244.9,909.8 1244.4,910.5 1243.9,911.0 C1243.4,911.4 1242.8,911.9 1242.1,912.1 C1241.5,912.4 1240.7,912.5 1240.0,912.5 C1239.3,912.5 1238.5,912.4 1237.9,912.1 C1237.2,911.9 1236.6,911.4 1236.1,911.0 C1235.6,910.5 1235.1,909.8 1234.9,909.2 C1234.6,908.6 1234.5,907.8 1234.5,907.1 C1234.5,906.4 1234.6,905.7 1234.9,905.0 C1235.1,904.4 1235.6,903.8 1236.1,903.3 C1236.6,902.8 1237.2,902.4 1237.9,902.1 C1238.5,901.8 1239.6,901.8 1240.0,901.7 M1240.0,911.6 C1240.4,911.7 1241.9,911.8 1242.7,912.1 C1243.5,912.4 1244.3,912.9 1245.0,913.5 C1245.6,914.1 1246.1,914.8 1246.5,915.6 C1246.8,916.3 1247.0,917.2 1247.0,918.0 C1247.0,918.8 1246.8,919.6 1246.5,920.4 C1246.1,921.1 1245.6,921.9 1245.0,922.4 C1244.3,923.0 1243.5,923.5 1242.7,923.8 C1241.9,924.1 1240.9,924.3 1240.0,924.3 C1239.1,924.3 1238.1,924.1 1237.3,923.8 C1236.5,923.5 1235.7,923.0 1235.0,922.4 C1234.4,921.9 1233.9,921.1 1233.5,920.4 C1233.2,919.6 1233.0,918.8 1233.0,918.0 C1233.0,917.2 1233.2,916.3 1233.5,915.6 C1233.9,914.8 1234.4,914.1 1235.0,913.5 C1235.7,912.9 1236.5,912.4 1237.3,912.1 C1238.1,911.8 1239.6,911.7 1240.0,911.6" stroke="#1c3cc8" stroke-width="5.4"/>
<path d="M1254.7,903.8 L1268.3,902.7 L1261.5,924.3" stroke="#1c3cc8" stroke-width="5.4"/>
<path d="M1158.5,966.7 C1158.9,966.8 1160.3,966.9 1161.1,967.3 C1161.8,967.6 1162.6,968.2 1163.2,968.9 C1163.8,969.6 1164.4,970.5 1164.7,971.4 C1165.0,972.3 1165.2,973.3 1165.2,974.3 C1165.2,975.3 1165.0,976.3 1164.7,977.2 C1164.4,978.1 1163.8,979.0 1163.2,979.6 C1162.6,980.3 1161.8,980.9 1161.1,981.3 C1160.3,981.7 1159.4,981.9 1158.5,981.9 C1157.6,981.9 1156.7,981.7 1155.9,981.3 C1155.2,980.9 1154.4,980.3 1153.8,979.6 C1153.2,979.0 1152.6,978.1 1152.3,977.2 C1152.0,976.3 1151.8,975.3 1151.8,974.3 C1151.8,973.3 1152.0,972.3 1152.3,971.4 C1152.6,970.5 1153.2,969.6 1153.8,968.9 C1154.4,968.2 1155.2,967.6 1155.9,967.3 C1156.7,966.9 1158.1,966.8 1158.5,966.7 M1158.5,980.6 C1159.0,980.7 1160.7,980.8 1161.7,981.3 C1162.7,981.7 1163.7,982.4 1164.5,983.2 C1165.2,984.0 1165.9,985.0 1166.3,986.1 C1166.7,987.1 1166.9,988.3 1166.9,989.5 C1166.9,990.6 1166.7,991.8 1166.3,992.8 C1165.9,993.9 1165.2,994.9 1164.5,995.7 C1163.7,996.5 1162.7,997.2 1161.7,997.6 C1160.7,998.1 1159.6,998.3 1158.5,998.3 C1157.4,998.3 1156.3,998.1 1155.3,997.6 C1154.3,997.2 1153.3,996.5 1152.5,995.7 C1151.8,994.9 1151.1,993.9 1150.7,992.8 C1150.3,991.8 1150.1,990.6 1150.1,989.5 C1150.1,988.3 1150.3,987.1 1150.7,986.1 C1151.1,985.0 1151.8,984.0 1152.5,983.2 C1153.3,982.4 1154.3,981.7 1155.3,981.3 C1156.3,980.8 1158.0,980.7 1158.5,980.6" stroke="#1c3cc8" stroke-width="5.4"/>
<path d="M1192.5,965.7 C1191.1,966.8 1186.6,968.9 1184.1,972.0 C1181.7,975.2 1178.6,981.0 1177.6,984.7 C1176.7,988.3 1177.2,992.0 1178.6,994.1 C1180.0,996.2 1183.5,997.6 1186.0,997.3 C1188.5,997.0 1192.2,994.7 1193.4,992.6 C1194.7,990.5 1194.7,986.5 1193.4,984.7 C1192.2,982.8 1188.5,981.2 1186.0,981.5 C1183.5,981.8 1179.8,985.5 1178.6,986.2" stroke="#1c3cc8" stroke-width="5.4"/>
<path d="M1365.0,960.7 C1365.3,960.8 1366.3,960.9 1366.8,961.2 C1367.4,961.5 1368.0,962.0 1368.4,962.6 C1368.8,963.1 1369.2,963.9 1369.4,964.6 C1369.7,965.4 1369.8,966.3 1369.8,967.1 C1369.8,967.9 1369.7,968.8 1369.4,969.5 C1369.2,970.3 1368.8,971.0 1368.4,971.6 C1368.0,972.2 1367.4,972.7 1366.8,973.0 C1366.3,973.3 1365.6,973.5 1365.0,973.5 C1364.4,973.5 1363.7,973.3 1363.2,973.0 C1362.6,972.7 1362.0,972.2 1361.6,971.6 C1361.2,971.0 1360.8,970.3 1360.6,969.5 C1360.3,968.8 1360.2,967.9 1360.2,967.1 C1360.2,966.3 1360.3,965.4 1360.6,964.6 C1360.8,963.9 1361.2,963.1 1361.6,962.6 C1362.0,962.0 1362.6,961.5 1363.2,961.2 C1363.7,960.9 1364.7,960.8 1365.0,960.7 M1365.0,972.4 C1365.4,972.5 1366.6,972.6 1367.3,973.0 C1368.0,973.3 1368.7,973.9 1369.3,974.6 C1369.8,975.3 1370.3,976.1 1370.6,977.0 C1370.9,977.9 1371.0,978.9 1371.0,979.9 C1371.0,980.8 1370.9,981.8 1370.6,982.7 C1370.3,983.6 1369.8,984.4 1369.3,985.1 C1368.7,985.8 1368.0,986.4 1367.3,986.7 C1366.6,987.1 1365.8,987.3 1365.0,987.3 C1364.2,987.3 1363.4,987.1 1362.7,986.7 C1362.0,986.4 1361.3,985.8 1360.7,985.1 C1360.2,984.4 1359.7,983.6 1359.4,982.7 C1359.1,981.8 1359.0,980.8 1359.0,979.9 C1359.0,978.9 1359.1,977.9 1359.4,977.0 C1359.7,976.1 1360.2,975.3 1360.7,974.6 C1361.3,973.9 1362.0,973.3 1362.7,973.0 C1363.4,972.6 1364.6,972.5 1365.0,972.4" stroke="#1c3cc8" stroke-width="5.4"/>
<path d="M1395.6,959.7 L1384.1,959.7 L1383.4,971.2 M1383.4,971.2 C1384.4,970.9 1387.5,969.0 1389.5,969.4 C1391.5,969.9 1394.5,972.0 1395.6,973.8 C1396.8,975.6 1396.9,978.3 1396.3,980.2 C1395.7,982.1 1393.8,984.4 1392.2,985.3 C1390.6,986.2 1388.4,985.7 1386.8,985.3 C1385.2,984.9 1383.4,983.2 1382.7,982.7" stroke="#1c3cc8" stroke-width="5.4"/>
<path d="M1233.3,1058.4 C1234.2,1058.1 1236.9,1056.6 1238.5,1056.7 C1240.1,1056.8 1242.5,1058.2 1243.1,1059.2 C1243.8,1060.2 1243.5,1061.6 1242.6,1062.5 C1241.6,1063.4 1238.2,1064.3 1237.3,1064.7 M1237.3,1064.7 C1238.3,1065.0 1242.0,1065.8 1243.1,1066.7 C1244.3,1067.5 1244.7,1068.9 1244.3,1070.0 C1243.9,1071.1 1242.2,1072.7 1240.8,1073.3 C1239.5,1073.9 1237.5,1073.6 1236.2,1073.3 C1234.8,1073.0 1233.3,1071.9 1232.7,1071.6" stroke="#1c3cc8" stroke-width="5.4"/>
<path d="M1258.5,1060.7 C1258.8,1060.7 1259.7,1060.8 1260.3,1060.9 C1260.9,1061.1 1261.4,1061.3 1261.9,1061.6 C1262.4,1061.9 1262.8,1062.3 1263.2,1062.7 C1263.5,1063.1 1263.8,1063.5 1264.0,1064.0 C1264.2,1064.5 1264.3,1065.0 1264.3,1065.5 C1264.3,1066.0 1264.2,1066.5 1264.0,1067.0 C1263.8,1067.5 1263.5,1067.9 1263.2,1068.3 C1262.8,1068.7 1262.4,1069.1 1261.9,1069.4 C1261.4,1069.7 1260.9,1069.9 1260.3,1070.1 C1259.7,1070.2 1259.1,1070.3 1258.5,1070.3 C1257.9,1070.3 1257.3,1070.2 1256.7,1070.1 C1256.1,1069.9 1255.6,1069.7 1255.1,1069.4 C1254.6,1069.1 1254.2,1068.7 1253.8,1068.3 C1253.5,1067.9 1253.2,1067.5 1253.0,1067.0 C1252.8,1066.5 1252.7,1066.0 1252.7,1065.5 C1252.7,1065.0 1252.8,1064.5 1253.0,1064.0 C1253.2,1063.5 1253.5,1063.1 1253.8,1062.7 C1254.2,1062.3 1254.6,1061.9 1255.1,1061.6 C1255.6,1061.3 1256.1,1061.1 1256.7,1060.9 C1257.3,1060.8 1258.2,1060.7 1258.5,1060.7" stroke="#1c3cc8" stroke-width="5.4"/>
</svg>
</body></html>
